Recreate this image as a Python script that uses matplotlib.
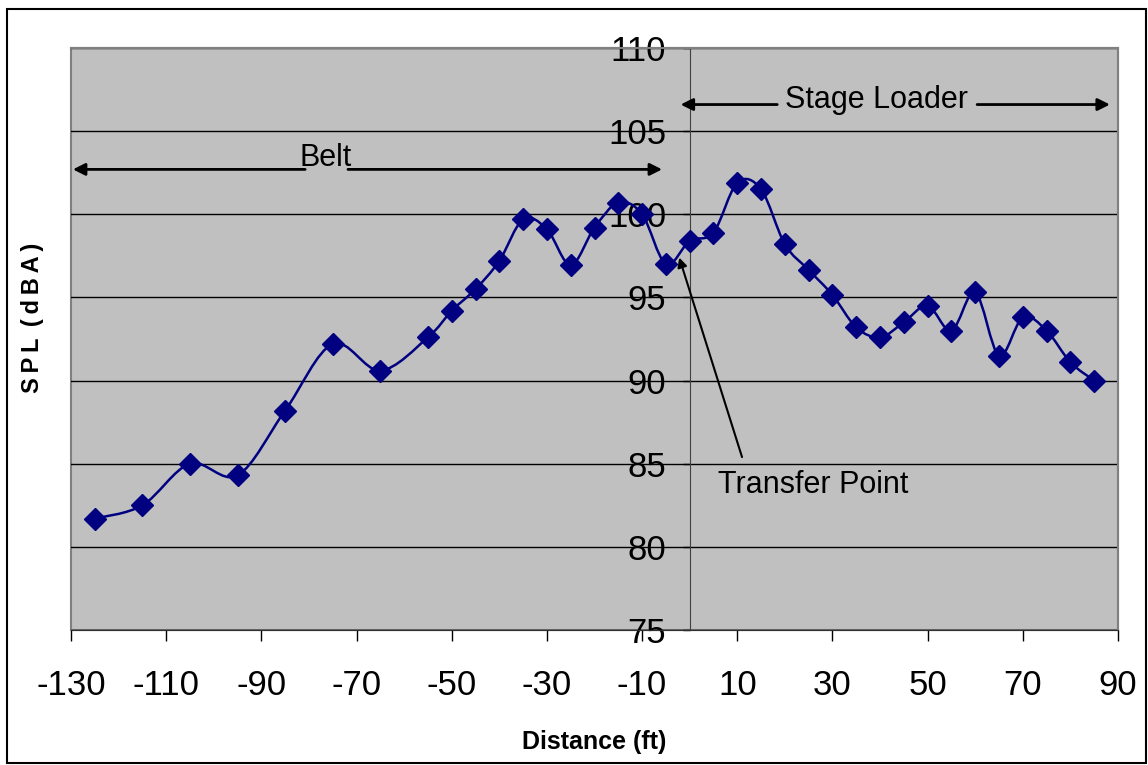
import matplotlib
matplotlib.use("AGG")
import numpy as np
from matplotlib import pyplot as plt
from matplotlib.path import Path
from matplotlib.patches import PathPatch, Rectangle

plt.rcParams['font.family'] = ['Liberation Sans', 'DejaVu Sans']
plt.rcParams['axes.unicode_minus'] = False

distance = [-125, -115, -105, -95, -85, -75, -65, -55, -50, -45, -40, -35, -30,
            -25, -20, -15, -10, -5, 0, 5, 10, 15, 20, 25, 30, 35, 40, 45, 50,
            55, 60, 65, 70, 75, 80, 85]
spl = [81.7, 82.5, 85.0, 84.3, 88.2, 92.2, 90.6, 92.6, 94.2, 95.5, 97.2, 99.7,
       99.1, 96.95, 99.2, 100.7, 100.0, 97.0, 98.4, 98.9, 101.9, 101.5, 98.2,
       96.65, 95.15, 93.2, 92.6, 93.5, 94.5, 93.0, 95.3, 91.5, 93.8, 93.0,
       91.1, 90.0]
x_ticks = list(range(-130, 91, 20))
y_ticks = list(range(75, 111, 5))

navy = '#000080'

fig = plt.figure(figsize=(11.48, 7.65), dpi=100)
ax = fig.add_axes([71 / 1148, 1 - 630 / 765, (1118 - 71) / 1148, (630 - 48) / 765])
ax.set_facecolor('#c0c0c0')
ax.set_xlim(-130, 90)
ax.set_ylim(75, 110)

# smoothed line like excel (catmull-rom as bezier segments)
pts = np.column_stack([distance, spl])
verts = [pts[0]]
codes = [Path.MOVETO]
n = len(pts)
for i in range(n - 1):
    p0 = pts[max(i - 1, 0)]
    p1 = pts[i]
    p2 = pts[i + 1]
    p3 = pts[min(i + 2, n - 1)]
    verts += [p1 + (p2 - p0) / 6, p2 - (p3 - p1) / 6, p2]
    codes += [Path.CURVE4] * 3
ax.add_patch(PathPatch(Path(verts, codes), fill=False, edgecolor=navy, lw=1.8, zorder=3))
ax.plot(distance, spl, linestyle='none', marker='D', markersize=11,
        color=navy, zorder=4)

ax.set_xticks(x_ticks)
ax.set_yticks(y_ticks)
ax.yaxis.grid(True, color='black', lw=1)
ax.set_axisbelow(True)

ax.spines['left'].set_position(('data', 0))
ax.spines['left'].set_color('#404040')
ax.spines['bottom'].set_color('#303030')
ax.spines['top'].set_color('#808080')
ax.spines['right'].set_color('#808080')
ax.spines['top'].set_linewidth(1.5)
ax.spines['right'].set_linewidth(1.5)
ax.add_patch(Rectangle((0, 0), 1, 1, transform=ax.transAxes, fill=False,
                       edgecolor='#808080', lw=1.5, zorder=0.5, clip_on=False))

ax.tick_params(axis='x', direction='out', length=8, width=1, pad=20, labelsize=25)
ax.tick_params(axis='y', direction='out', length=5, width=1, pad=12, labelsize=25)

ax.set_xlabel('Distance (ft)', fontsize=18, fontweight='bold', labelpad=20)
fig.text(33 / 1148, 1 - 318 / 765, 'S\u2009P\u2009L\u2009 (\u2009d\u2009B\u2009A\u2009)',
         rotation=90, fontsize=17, fontweight='bold', ha='center', va='center')

arrow = dict(arrowstyle='-|>', color='black', lw=2, mutation_scale=18,
             shrinkA=0, shrinkB=0)
ax.annotate('', xy=(-129.6, 102.7), xytext=(-80.8, 102.7), arrowprops=arrow,
            annotation_clip=False)
ax.annotate('', xy=(-5.8, 102.7), xytext=(-71.8, 102.7), arrowprops=arrow,
            annotation_clip=False)
ax.text(-76.4, 103.4, 'Belt', fontsize=22, ha='center', va='center')

ax.annotate('', xy=(-1.9, 106.6), xytext=(18.4, 106.6), arrowprops=arrow,
            annotation_clip=False)
ax.annotate('', xy=(88.3, 106.6), xytext=(60.4, 106.6), arrowprops=arrow,
            annotation_clip=False)
ax.text(39.3, 106.85, 'Stage Loader', fontsize=22, ha='center', va='center')

thin = dict(arrowstyle='-|>', color='black', lw=1.5, mutation_scale=14,
            shrinkA=0, shrinkB=0)
ax.annotate('', xy=(-2.2, 97.4), xytext=(11.0, 85.4), arrowprops=thin)
ax.text(25.9, 83.7, 'Transfer Point', fontsize=22, ha='center', va='center')

fig.add_artist(Rectangle((7 / 1148, 2 / 765), 1139 / 1148, 754 / 765,
                         transform=fig.transFigure, fill=False,
                         edgecolor='black', lw=1.5))

fig.savefig('out.png', dpi=100)
